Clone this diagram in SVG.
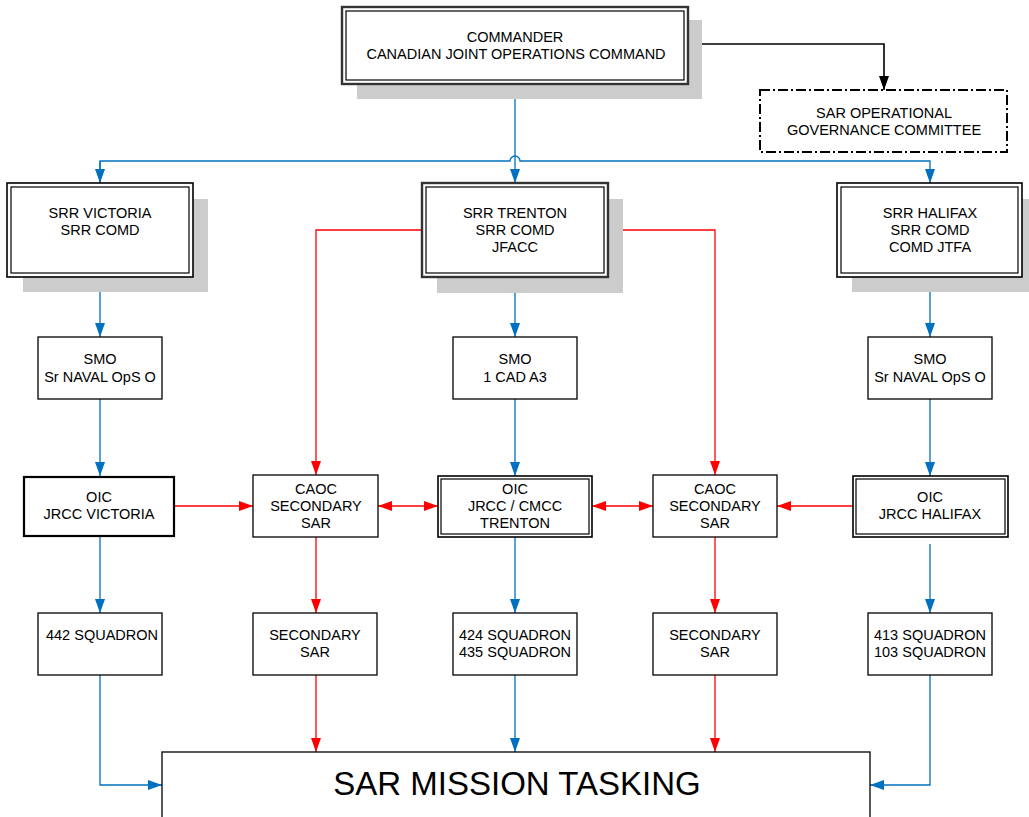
<svg xmlns="http://www.w3.org/2000/svg" width="1029" height="817" viewBox="0 0 1029 817">
<defs>
<style>
.t{font-family:"Liberation Sans",Arial,sans-serif;font-size:14.5px;fill:#000;text-anchor:middle}
.big{font-size:33px}
.box{fill:#fff;stroke:#000;stroke-width:1.3}
.thick{fill:#fff;stroke:#000;stroke-width:2.2}
.dbl-o{fill:#fff;stroke:#000;stroke-width:1.6}
.dbl-i{fill:none;stroke:#000;stroke-width:1.2}
.hvy-o{fill:#fff;stroke:#333;stroke-width:2.4}
.shadow{fill:#cccccc}
.blue{fill:none;stroke:#0070C0;stroke-width:1.3}
.red{fill:none;stroke:#FF0000;stroke-width:1.3}
.blk{fill:none;stroke:#000;stroke-width:1.6}
</style>
<marker id="ab" viewBox="0 0 14 10" refX="14" refY="5" markerWidth="14" markerHeight="10" markerUnits="userSpaceOnUse" orient="auto-start-reverse"><path d="M0,0 L14,5 L0,10 z" fill="#0070C0"/></marker>
<marker id="ar" viewBox="0 0 14 10" refX="14" refY="5" markerWidth="14" markerHeight="10" markerUnits="userSpaceOnUse" orient="auto-start-reverse"><path d="M0,0 L14,5 L0,10 z" fill="#FF0000"/></marker>
<marker id="ak" viewBox="0 0 14 10" refX="14" refY="5" markerWidth="14" markerHeight="10" markerUnits="userSpaceOnUse" orient="auto"><path d="M0,0 L14,5 L0,10 z" fill="#000"/></marker>
</defs>

<g id="connectors">
<path class="blk" d="M688,44 H884 V90" marker-end="url(#ak)"/>
<path class="blue" d="M515,84 V183" marker-end="url(#ab)"/>
<path class="blue" d="M100,183 V161 H510 A5,5 0 0 1 520,161 H930 V183" marker-end="url(#ab)"/>
<path class="blue" d="M100,161 V183" marker-end="url(#ab)"/>
<path class="red" d="M422,230 H316 V475" marker-end="url(#ar)"/>
<path class="red" d="M608,230 H715 V475" marker-end="url(#ar)"/>
<path class="blue" d="M100,277 V337" marker-end="url(#ab)"/>
<path class="blue" d="M515,277 V337" marker-end="url(#ab)"/>
<path class="blue" d="M930,277 V337" marker-end="url(#ab)"/>
<path class="blue" d="M100,399 V476" marker-end="url(#ab)"/>
<path class="blue" d="M515,399 V476" marker-end="url(#ab)"/>
<path class="blue" d="M930,399 V476" marker-end="url(#ab)"/>
<path class="red" d="M174,506 H253" marker-end="url(#ar)"/>
<path class="red" d="M378,506 H438" marker-start="url(#ar)" marker-end="url(#ar)"/>
<path class="red" d="M592,506 H653" marker-start="url(#ar)" marker-end="url(#ar)"/>
<path class="red" d="M853,506 H777" marker-end="url(#ar)"/>
<path class="blue" d="M100,537 V613" marker-end="url(#ab)"/>
<path class="red" d="M316,537 V613" marker-end="url(#ar)"/>
<path class="blue" d="M515,537 V613" marker-end="url(#ab)"/>
<path class="red" d="M715,537 V613" marker-end="url(#ar)"/>
<path class="blue" d="M930,544 V613" marker-end="url(#ab)"/>
<path class="blue" d="M100,675 V785 H162" marker-end="url(#ab)"/>
<path class="red" d="M316,675 V752" marker-end="url(#ar)"/>
<path class="blue" d="M515,675 V752" marker-end="url(#ab)"/>
<path class="red" d="M715,675 V752" marker-end="url(#ar)"/>
<path class="blue" d="M930,675 V785 H870" marker-end="url(#ab)"/>
</g>

<g id="commander">
<rect class="shadow" x="357" y="20" width="345" height="79"/>
<rect class="hvy-o" x="342" y="7" width="346" height="77"/>
<rect class="dbl-i" x="346" y="11" width="338" height="69"/>
<text class="t" x="515" y="42">COMMANDER</text>
<text class="t" x="516" y="59">CANADIAN JOINT OPERATIONS COMMAND</text>
</g>

<g id="sar-governance">
<rect x="760" y="90" width="247" height="62" fill="#fff" stroke="#000" stroke-width="2" stroke-dasharray="10,3,2,3"/>
<text class="t" x="884" y="118">SAR OPERATIONAL</text>
<text class="t" x="884" y="135">GOVERNANCE COMMITTEE</text>
</g>

<g id="srr-victoria">
<rect class="shadow" x="23" y="199" width="185" height="93"/>
<rect class="dbl-o" x="7" y="183" width="186" height="94"/>
<rect class="dbl-i" x="11" y="187" width="178" height="86"/>
<text class="t" x="100" y="218">SRR VICTORIA</text>
<text class="t" x="100" y="235">SRR COMD</text>
</g>

<g id="srr-trenton">
<rect class="shadow" x="437" y="199" width="186" height="94"/>
<rect class="hvy-o" x="422" y="183" width="186" height="94"/>
<rect class="dbl-i" x="426" y="187" width="178" height="86"/>
<text class="t" x="515" y="218">SRR TRENTON</text>
<text class="t" x="515" y="235">SRR COMD</text>
<text class="t" x="515" y="252">JFACC</text>
</g>

<g id="srr-halifax">
<rect class="shadow" x="852" y="199" width="186" height="93"/>
<rect class="dbl-o" x="837" y="183" width="185" height="94"/>
<rect class="dbl-i" x="841" y="187" width="177" height="86"/>
<text class="t" x="930" y="218">SRR HALIFAX</text>
<text class="t" x="930" y="235">SRR COMD</text>
<text class="t" x="930" y="252">COMD JTFA</text>
</g>

<g id="smo-victoria">
<rect class="box" x="38" y="337" width="124" height="62"/>
<text class="t" x="100" y="364">SMO</text>
<text class="t" x="100" y="382">Sr NAVAL OpS O</text>
</g>

<g id="smo-trenton">
<rect class="box" x="453" y="337" width="124" height="62"/>
<text class="t" x="515" y="364">SMO</text>
<text class="t" x="515" y="382">1 CAD A3</text>
</g>

<g id="smo-halifax">
<rect class="box" x="868" y="337" width="124" height="62"/>
<text class="t" x="930" y="364">SMO</text>
<text class="t" x="930" y="382">Sr NAVAL OpS O</text>
</g>

<g id="jrcc-victoria">
<rect class="thick" x="24" y="477" width="150" height="59"/>
<text class="t" x="99" y="502">OIC</text>
<text class="t" x="99" y="519">JRCC VICTORIA</text>
</g>

<g id="caoc-left">
<rect class="box" x="253" y="475" width="125" height="62"/>
<text class="t" x="316" y="494">CAOC</text>
<text class="t" x="316" y="511">SECONDARY</text>
<text class="t" x="316" y="528">SAR</text>
</g>

<g id="jrcc-trenton">
<rect class="dbl-o" x="438" y="476" width="154" height="61"/>
<rect class="dbl-i" x="441" y="479" width="148" height="55"/>
<text class="t" x="515" y="494">OIC</text>
<text class="t" x="515" y="511">JRCC / CMCC</text>
<text class="t" x="515" y="528">TRENTON</text>
</g>

<g id="caoc-right">
<rect class="box" x="653" y="475" width="124" height="62"/>
<text class="t" x="715" y="494">CAOC</text>
<text class="t" x="715" y="511">SECONDARY</text>
<text class="t" x="715" y="528">SAR</text>
</g>

<g id="jrcc-halifax">
<rect class="dbl-o" x="853" y="476" width="155" height="61"/>
<rect class="dbl-i" x="856" y="479" width="149" height="55"/>
<text class="t" x="930" y="502">OIC</text>
<text class="t" x="930" y="519">JRCC HALIFAX</text>
</g>

<g id="sq-442">
<rect class="box" x="38" y="613" width="124" height="62"/>
<text class="t" x="102" y="640">442 SQUADRON</text>
</g>

<g id="secondary-left">
<rect class="box" x="253" y="613" width="124" height="62"/>
<text class="t" x="315" y="640">SECONDARY</text>
<text class="t" x="315" y="657">SAR</text>
</g>

<g id="sq-424-435">
<rect class="box" x="453" y="613" width="124" height="62"/>
<text class="t" x="515" y="640">424 SQUADRON</text>
<text class="t" x="515" y="657">435 SQUADRON</text>
</g>

<g id="secondary-right">
<rect class="box" x="653" y="613" width="124" height="62"/>
<text class="t" x="715" y="640">SECONDARY</text>
<text class="t" x="715" y="657">SAR</text>
</g>

<g id="sq-413-103">
<rect class="box" x="868" y="613" width="124" height="62"/>
<text class="t" x="930" y="640">413 SQUADRON</text>
<text class="t" x="930" y="657">103 SQUADRON</text>
</g>

<g id="mission">
<rect class="box" x="162" y="752" width="708" height="80"/>
<text class="t big" x="517" y="795">SAR MISSION TASKING</text>
</g>
</svg>
